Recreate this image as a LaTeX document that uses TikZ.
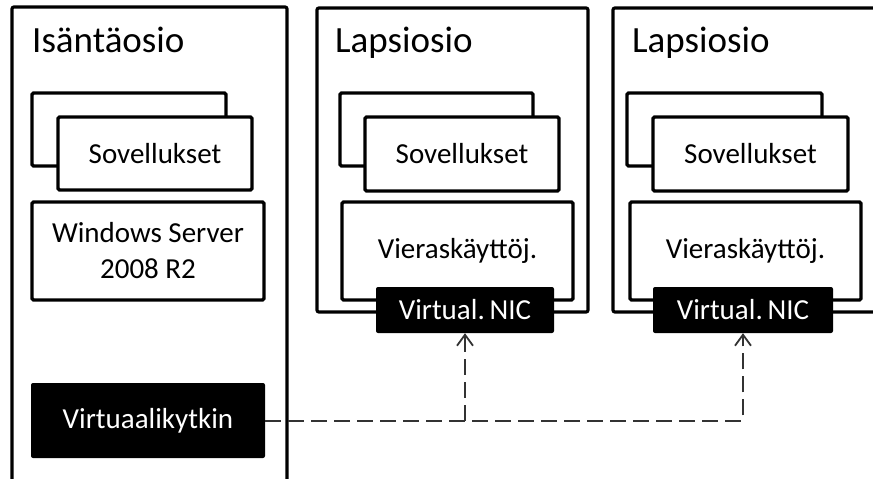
\documentclass[tikz,border=0pt]{standalone}
\usepackage{fontspec}
\setmainfont{Carlito}
\usetikzlibrary{arrows.meta}
\tikzset{
  part/.style={draw, line width=3.2pt, rounded corners=2pt, inner sep=0pt},
  box/.style={draw, line width=3.2pt, fill=white, rounded corners=1.5pt, inner sep=0pt, align=center,
              font=\fontsize{29}{36}\selectfont},
  blk/.style={fill=black, text=white, rounded corners=2pt, inner sep=0pt, align=center,
              font=\fontsize{29}{36}\selectfont},
  ttl/.style={anchor=base west, inner sep=0pt, font=\fontsize{37}{44}\selectfont},
  link/.style={draw=black!80, line width=2pt, dash pattern=on 16pt off 7pt,
               -{Straight Barb[length=11pt,width=16pt,line width=1.8pt]}}
}
\begin{document}
\begin{tikzpicture}[x=1pt,y=-1pt]
\useasboundingbox (0,0) rectangle (873,479);
\clip (0,0) rectangle (873,479);
% partitions
\node[part, minimum width=275pt, minimum height=488pt] (host) at (149.5,251) {};
\node[part, minimum width=271pt, minimum height=304pt] (child1) at (452.5,160) {};
\node[part, minimum width=277pt, minimum height=304pt] (child2) at (751.5,160) {};
\node[ttl] (t0) at (32,52) {Isäntäosio};
\node[ttl] (t1) at (335,52) {Lapsiosio};
\node[ttl] (t2) at (632,52) {Lapsiosio};
% host
\node[box, minimum width=194pt, minimum height=73pt] (hb) at (129,129.5) {};
\node[box, minimum width=194pt, minimum height=73pt] (hf) at (155,153.5) {Sovellukset};
\node[box, minimum width=232pt, minimum height=98pt] (win) at (148,251) {Windows Server\\2008 R2};
\node[blk, minimum width=234pt, minimum height=75pt] (vsw) at (148,420.5) {Virtuaalikytkin};
% child 1
\node[box, minimum width=193pt, minimum height=73pt] (c1b) at (436.5,129.5) {};
\node[box, minimum width=194pt, minimum height=74pt] (c1f) at (462,154) {Sovellukset};
\node[box, minimum width=231pt, minimum height=98pt] (os1) at (457.5,251) {Vieraskäyttöj.};
\node[blk, minimum width=178pt, minimum height=46pt] (nic1) at (465,310) {Virtual.\,NIC};
% child 2
\node[box, minimum width=195pt, minimum height=73pt] (c2b) at (724.5,129.5) {};
\node[box, minimum width=195pt, minimum height=74pt] (c2f) at (750.5,154) {Sovellukset};
\node[box, minimum width=231pt, minimum height=98pt] (os2) at (745.5,251) {Vieraskäyttöj.};
\node[blk, minimum width=180pt, minimum height=46pt] (nic2) at (743,310) {Virtual.\,NIC};
% connectors
\coordinate (j1) at (nic1.south |- vsw.east);
\draw[link] (vsw.east) -| (nic2.south);
\draw[link] (j1) -- (nic1.south);
\end{tikzpicture}
\end{document}
